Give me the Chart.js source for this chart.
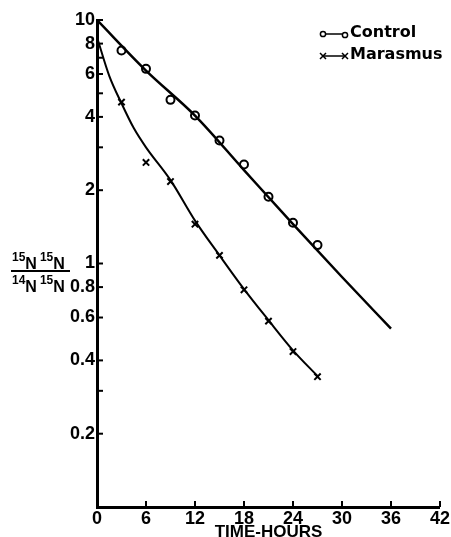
<!DOCTYPE html>
<html>
<head>
<meta charset="utf-8">
<script src="https://cdn.jsdelivr.net/npm/chart.js@4/dist/chart.umd.min.js"></script>
<style>
  html, body { margin: 0; padding: 0; background: #fff; }
  #wrap { width: 451px; height: 537px; position: relative; }
</style>
</head>
<body>
<div id="wrap"><canvas id="c" width="451" height="537"></canvas></div>
<script>
// ---- data ----
const controlHours   = [3, 6, 9, 12, 15, 18, 21, 24, 27];
const controlValues  = [7.5, 6.3, 4.7, 4.05, 3.2, 2.55, 1.88, 1.47, 1.19];
const marasmusHours  = [3, 6, 9, 12, 15, 18, 21, 24, 27];
const marasmusValues = [4.6, 2.6, 2.17, 1.45, 1.08, 0.78, 0.58, 0.435, 0.343];
const controlFitHours   = [0, 6, 12, 18, 24, 30, 36];
const controlFitValues  = [10, 6.2, 4.05, 2.42, 1.45, 0.88, 0.54];
const marasmusFitHours  = [0, 1.5, 3, 4.5, 6, 9, 12, 15, 18, 21, 24, 27];
const marasmusFitValues = [8.5, 5.9, 4.55, 3.6, 3.0, 2.2, 1.5, 1.08, 0.785, 0.585, 0.44, 0.345];
const xTicks = [0, 6, 12, 18, 24, 30, 36, 42];
const yTicks = [0.1, 0.2, 0.3, 0.4, 0.6, 0.8, 1, 2, 3, 4, 5, 6, 7, 8, 10];
const yTickLabels = ['', '0.2', '', '0.4', '0.6', '0.8', '1', '2', '', '4', '', '6', '', '8', '10'];
const seriesNames = ['Control', 'Marasmus'];
const xTitle = 'TIME-HOURS';

const pts = (xs, ys) => xs.map((x, i) => ({ x: x, y: ys[i] }));
const FONT = "'Liberation Sans', Arial, sans-serif";

const extras = {
  id: 'extras',
  afterDraw(chart) {
    const ctx = chart.ctx;
    const xs = chart.scales.x, ys = chart.scales.y;
    const area = chart.chartArea;
    ctx.save();
    ctx.strokeStyle = '#000';
    ctx.lineWidth = 2;
    // inner tick marks
    yTicks.forEach(v => {
      const py = ys.getPixelForValue(v);
      ctx.beginPath(); ctx.moveTo(area.left, py); ctx.lineTo(area.left + 6, py); ctx.stroke();
    });
    xTicks.forEach(v => {
      if (v === 0) return;
      const px = xs.getPixelForValue(v);
      ctx.beginPath(); ctx.moveTo(px, area.bottom); ctx.lineTo(px, area.bottom - 6); ctx.stroke();
    });
    // legend
    ctx.fillStyle = '#000';
    ctx.font = "bold 16px 'DejaVu Sans', sans-serif";
    ctx.textBaseline = 'middle';
    ctx.textAlign = 'left';
    const lx = 323, rx = 345;
    let yy = 34;
    ctx.lineWidth = 1.5;
    ctx.beginPath(); ctx.moveTo(lx + 3, yy); ctx.lineTo(rx - 3, yy); ctx.stroke();
    ctx.beginPath(); ctx.arc(lx, yy, 2.6, 0, Math.PI * 2); ctx.stroke();
    ctx.beginPath(); ctx.arc(rx, yy + 1, 2.6, 0, Math.PI * 2); ctx.stroke();
    ctx.fillText(seriesNames[0], 350, yy - 1);
    yy = 56;
    ctx.beginPath(); ctx.moveTo(lx, yy); ctx.lineTo(rx, yy); ctx.stroke();
    [lx, rx].forEach(cx => {
      ctx.beginPath();
      ctx.moveTo(cx - 3, yy - 3); ctx.lineTo(cx + 3, yy + 3);
      ctx.moveTo(cx + 3, yy - 3); ctx.lineTo(cx - 3, yy + 3);
      ctx.stroke();
    });
    ctx.fillText(seriesNames[1], 350, yy - 1);
    // y-axis fraction label
    ctx.textBaseline = 'alphabetic';
    const drawIso = (x, y, mass) => {
      ctx.font = "bold 12px " + FONT;
      ctx.fillText(mass, x, y - 7);
      const w = ctx.measureText(mass).width;
      ctx.font = "bold 16px " + FONT;
      ctx.fillText('N', x + w, y + 1);
      return x + w + ctx.measureText('N').width;
    };
    let nx = drawIso(12, 268, '15');
    drawIso(nx + 3, 268, '15');
    nx = drawIso(12, 291, '14');
    drawIso(nx + 3, 291, '15');
    ctx.lineWidth = 2;
    ctx.beginPath(); ctx.moveTo(11, 271); ctx.lineTo(70, 271); ctx.stroke();
    ctx.restore();
  }
};

new Chart(document.getElementById('c'), {
  type: 'scatter',
  data: {
    datasets: [
      { label: 'Control fit', data: pts(controlFitHours, controlFitValues), showLine: true,
        borderColor: '#000', borderWidth: 2.5, pointRadius: 0, cubicInterpolationMode: 'monotone' },
      { label: 'Marasmus fit', data: pts(marasmusFitHours, marasmusFitValues), showLine: true,
        borderColor: '#000', borderWidth: 2, pointRadius: 0, cubicInterpolationMode: 'monotone' },
      { label: seriesNames[0], data: pts(controlHours, controlValues), showLine: false,
        pointStyle: 'circle', pointRadius: 4, borderColor: '#000', backgroundColor: '#fff', borderWidth: 2 },
      { label: seriesNames[1], data: pts(marasmusHours, marasmusValues), showLine: false,
        pointStyle: 'crossRot', pointRadius: 4.5, borderColor: '#000', backgroundColor: '#000', borderWidth: 2 }
    ]
  },
  options: {
    responsive: false,
    animation: false,
    layout: { padding: { top: 20, right: 10, left: 0, bottom: 0 } },
    plugins: { legend: { display: false }, tooltip: { enabled: false } },
    scales: {
      x: {
        type: 'linear', min: 0, max: 42,
        afterBuildTicks: s => { s.ticks = xTicks.map(v => ({ value: v })); },
        afterFit: s => { s.height = 30; },
        grid: { display: false, drawTicks: false },
        border: { display: true, color: '#000', width: 3 },
        ticks: { color: '#000', padding: 1, maxRotation: 0, autoSkip: false,
          font: { family: FONT, size: 18, weight: 'bold' } },
        title: { display: true, text: xTitle, color: '#000', padding: { top: 0, bottom: -6 },
          font: { family: FONT, size: 17, weight: 'bold' } }
      },
      y: {
        type: 'logarithmic', min: 0.1, max: 10,
        afterBuildTicks: s => { s.ticks = yTicks.map(v => ({ value: v })); },
        afterFit: s => { s.width = 97; },
        grid: { display: false, drawTicks: false },
        border: { display: true, color: '#000', width: 3 },
        ticks: { color: '#000', padding: 2, autoSkip: false,
          callback: (v) => { const i = yTicks.indexOf(v); return i >= 0 ? yTickLabels[i] : ''; },
          font: { family: FONT, size: 18, weight: 'bold' } }
      }
    }
  },
  plugins: [extras]
});
</script>
</body>
</html>
